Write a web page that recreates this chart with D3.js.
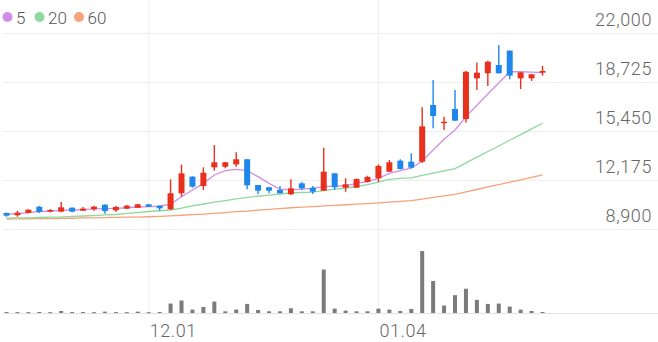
<!DOCTYPE html>
<html>
<head>
<meta charset="utf-8">
<script src="https://cdn.jsdelivr.net/npm/d3@7"></script>
<style>
body { margin: 0; background: #fff; }
#candle-chart text { font-family: Roboto, sans-serif; font-weight: 300; }
</style>
</head>
<body>
<div id="candle-chart"></div>
<script>
// trading days, MM.DD
var dates = ["11.12","11.13","11.16","11.17","11.18","11.19","11.20","11.23","11.24","11.25",
             "11.26","11.27","11.30","12.01","12.02","12.03","12.04","12.07","12.08","12.09",
             "12.10","12.11","12.14","12.15","12.16","12.17","12.18","12.21","12.22","12.23",
             "12.24","12.28","12.29","12.30","01.04","01.05","01.06","01.07","01.08","01.11",
             "01.12","01.13","01.14","01.15","01.18","01.19","01.20","01.21","01.22","01.25"];

var open  = [9970,9820,9970,10390,10060,10060,10320,10120,10220,10520,10150,10260,10320,10550,10460,10220,11290,12400,11770,13020,
             13060,13220,13560,11840,11690,11510,11220,11950,11660,11460,12620,11660,11660,12040,12290,12730,13470,13400,13400,17190,
             15990,16920,16250,18970,19310,19860,20820,18970,18970,19350];
var high  = [10000,10120,10220,10440,10240,10700,10350,10370,10460,10550,10440,10500,10590,10570,10470,12220,13200,12420,13020,14510,
             13380,14030,13580,11840,11710,11770,12220,12040,11770,14330,12640,12290,12280,12460,13220,13510,13560,13960,17030,18860,
             16410,18190,19460,20020,20150,21200,20830,19390,19260,19800];
var low   = [9720,9720,9950,9970,10020,10020,10020,10100,10120,9920,10040,10240,10300,10370,10120,10170,11060,11660,11510,12800,
             12960,13060,11550,11220,11290,11270,11170,11510,11240,11460,11510,11390,11640,12010,12040,12710,12880,12960,13310,15630,
             15520,16120,16010,18190,18460,19290,18910,18260,18790,19150];
var close = [9790,9990,10190,10040,10170,10350,10060,10260,10390,10100,10370,10460,10550,10390,10280,11290,12620,11730,12660,13360,
             13360,13560,11820,11460,11460,11290,11620,11620,11390,12730,11690,11890,12240,12380,13110,13360,12910,13000,15760,16450,
             16070,16140,19410,19350,20080,19310,19150,19370,19240,19460];

var volume = [14000,13000,12000,15000,12000,30000,13000,14000,12000,20000,13000,12000,20000,12000,14000,140000,185000,50000,90000,170000,
              25000,50000,135000,45000,25000,25000,70000,25000,25000,645000,65000,35000,25000,25000,65000,50000,30000,60000,920000,475000,
              110000,265000,360000,195000,135000,140000,95000,50000,30000,15000];

var ma5  = [9900,9920,10000,10070,10100,10140,10170,10200,10240,10260,10280,10320,10370,10390,10420,10570,11060,11510,11950,12510,
            12800,12890,12800,12400,11950,11570,11510,11570,11620,11730,11770,11790,11950,12060,12290,12620,12800,12960,13450,14180,
            14900,15520,16410,17170,17920,18660,19410,19410,19390,19350];
var ma20 = [9620,9640,9650,9670,9690,9700,9740,9770,9800,9840,9870,9940,10000,10070,10120,10170,10300,10440,10570,10700,
            10800,10910,11010,11090,11170,11240,11310,11340,11370,11470,11570,11640,11740,11870,12040,12210,12280,12320,12480,12630,
            12780,12940,13320,13700,14080,14450,14830,15210,15590,15970];
var ma60 = [9570,9580,9580,9590,9600,9620,9620,9640,9650,9660,9680,9690,9700,9720,9750,9780,9820,9860,9900,9950,
            10000,10060,10100,10160,10210,10260,10320,10360,10400,10440,10480,10520,10560,10600,10640,10690,10740,10800,10890,11010,
            11110,11220,11380,11540,11710,11870,12030,12190,12350,12510];

var priceTicks = [8900, 12175, 15450, 18725, 22000];
var monthTicks = ["12.01", "01.04"];
var legendLabels = ["5", "20", "60"];

var initCandleChart = {
    draw: (config) => {
        var domEle = config.element,
            width = 658,
            height = 342,
            upColor = "#e8301c",
            downColor = "#1f87ec",
            maColors = ["#d28de9", "#8ed99d", "#f6a27b"],
            x = d3.scaleBand().domain(dates).range([1, 548]),
            half = x.bandwidth() / 2,
            yPrice = d3.scaleLinear().domain([8900, 22000]).range([229, 33]),
            yVol = d3.scaleLinear().domain([0, d3.max(volume)]).range([313, 251]),
            svg = d3.select("#" + domEle).append("svg")
                .attr("width", width)
                .attr("height", height);

        // price grid + labels on the right
        var yAxis = d3.axisLeft(yPrice).tickValues(priceTicks).tickSize(655).tickFormat(d3.format(","));
        var gy = svg.append("g")
            .attr("transform", "translate(" + width + ",0)")
            .call(yAxis);
        gy.select(".domain").remove();
        gy.selectAll("line").attr("stroke", "#efefef");
        gy.selectAll("text")
            .attr("x", -6)
            .attr("dy", -8)
            .attr("fill", "#666")
            .style("font-size", "18px")
            .style("letter-spacing", "0.6px");

        // date grid + labels
        var xAxis = d3.axisBottom(x).tickValues(monthTicks).tickSize(-313);
        var gx = svg.append("g")
            .attr("transform", "translate(0,313)")
            .call(xAxis);
        gx.select(".domain").remove();
        gx.selectAll("line").attr("stroke", "#efefef");
        gx.selectAll("text")
            .attr("x", 1)
            .attr("y", 24)
            .attr("dy", 0)
            .attr("text-anchor", "start")
            .attr("fill", "#666")
            .style("font-size", "18px")
            .style("letter-spacing", "0.6px");

        // volume baseline
        svg.append("line")
            .attr("x1", 3).attr("x2", width)
            .attr("y1", yVol(0) + 0.5).attr("y2", yVol(0) + 0.5)
            .attr("stroke", "#e2e2e2");

        // volume bars
        svg.append("g").selectAll("rect")
            .data(volume)
            .enter().append("rect")
            .attr("x", (d, i) => x(dates[i]) + half - 2)
            .attr("y", d => yVol(d))
            .attr("width", 4)
            .attr("height", d => Math.max(1, yVol(0) - yVol(d)))
            .attr("fill", "#7b7b7b");

        // moving averages
        var line = d3.line()
            .x((d, i) => x(dates[i]) + half)
            .y(d => yPrice(d));

        svg.append("g").selectAll("path")
            .data([ma60, ma20, ma5])
            .enter().append("path")
            .attr("d", line)
            .attr("fill", "none")
            .attr("stroke", (d, i) => maColors[2 - i])
            .attr("stroke-width", 1.3);

        // candles
        var candle = svg.append("g").selectAll("g")
            .data(dates)
            .enter().append("g")
            .attr("transform", d => "translate(" + (x(d) + half) + ",0)");

        var col = (d, i) => close[i] >= open[i] ? upColor : downColor;

        candle.append("line")
            .attr("y1", (d, i) => yPrice(high[i]))
            .attr("y2", (d, i) => yPrice(low[i]))
            .attr("stroke", col)
            .attr("stroke-width", 1.4);

        candle.append("rect")
            .attr("x", -3)
            .attr("width", 6)
            .attr("y", (d, i) => yPrice(Math.max(open[i], close[i])))
            .attr("height", (d, i) => Math.max(1.5, Math.abs(yPrice(open[i]) - yPrice(close[i]))))
            .attr("fill", col);

        // legend
        var legend = svg.append("g").selectAll("g")
            .data(legendLabels)
            .enter().append("g")
            .attr("transform", (d, i) => "translate(" + [7.5, 39.5, 79][i] + ",17)");

        legend.append("circle")
            .attr("r", 5)
            .attr("fill", (d, i) => maColors[i]);

        legend.append("text")
            .attr("x", 8.5)
            .attr("y", 6.5)
            .attr("fill", "#555")
            .style("font-size", "17px")
            .text(d => d);
    }
};

initCandleChart.draw({
    element: 'candle-chart'
});
</script>
</body>
</html>
